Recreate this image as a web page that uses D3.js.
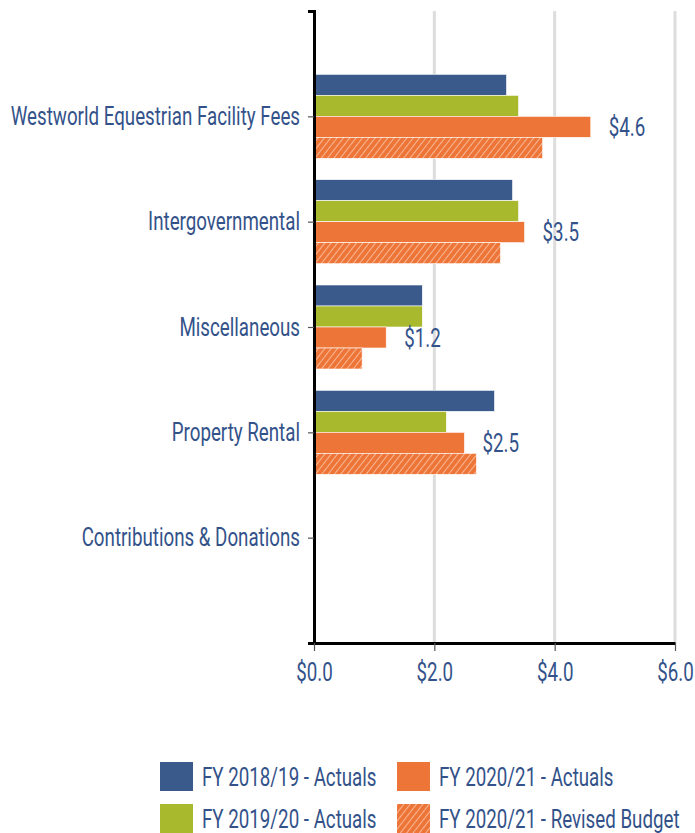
<!DOCTYPE html>
<html>
<head>
<meta charset="utf-8" />
<title>Revenue by source</title>
<style>
  body { margin: 0; background: #fff; }
  svg text { font-family: Roboto, "DejaVu Sans Condensed", sans-serif; fill: #33528a; font-size: 25px; }
</style>
<script src="https://cdn.jsdelivr.net/npm/d3@7"></script>
</head>
<body>
<div id="chart"></div>
<script>
// categories, top to bottom
var categories = ["Westworld Equestrian Facility Fees", "Intergovernmental", "Miscellaneous", "Property Rental", "Contributions & Donations"];

// series values ($ millions), same order as categories
var fy1819Actuals = [3.2, 3.3, 1.8, 3.0, 0];
var fy1920Actuals = [3.4, 3.4, 1.8, 2.2, 0];
var fy2021Actuals = [4.6, 3.5, 1.2, 2.5, 0];
var fy2021Revised = [3.8, 3.1, 0.8, 2.7, 0];

var seriesNames = ["FY 2018/19 - Actuals", "FY 2019/20 - Actuals", "FY 2020/21 - Actuals", "FY 2020/21 - Revised Budget"];
var seriesValues = [fy1819Actuals, fy1920Actuals, fy2021Actuals, fy2021Revised];
var seriesFills = ["#3a5a8c", "#a9b92e", "#ee7538", "url(#hatch)"];

var xTicks = [0, 2, 4, 6];

var width = 695, height = 833;
var plotL = 314, plotR = 675, plotT = 11, plotB = 643;
var squeeze = 0.75; // condensed look

var svg = d3.select("#chart").append("svg").attr("width", width).attr("height", height);

// squeeze text horizontally around its own anchor
function condense(sel) {
  sel.each(function() {
    var t = d3.select(this);
    var tx = +t.attr("x") || 0;
    t.attr("x", 0).attr("transform", "translate(" + tx + ",0) scale(" + squeeze + ",1)");
  });
}

// hatch pattern for revised budget
var pat = svg.append("defs").append("pattern").attr("id", "hatch")
  .attr("patternUnits", "userSpaceOnUse").attr("width", 5).attr("height", 5)
  .attr("patternTransform", "rotate(38)");
pat.append("rect").attr("width", 5).attr("height", 5).attr("fill", "#ee7538");
pat.append("line").attr("x1", 0).attr("y1", 0).attr("x2", 0).attr("y2", 5)
  .attr("stroke", "#fcd5c0").attr("stroke-width", 1.4);

var x = d3.scaleLinear().domain([0, 6]).range([plotL, plotR]);
var y = d3.scalePoint().domain(categories).range([plotT, plotB]).padding(1);
var inner = d3.scaleBand().domain(d3.range(seriesNames.length)).range([-42, 42]);

// grid lines
svg.append("g").selectAll("line").data(xTicks.filter(function(d) { return d > 0; })).enter().append("line")
  .attr("x1", function(d) { return x(d); }).attr("x2", function(d) { return x(d); })
  .attr("y1", plotT).attr("y2", plotB)
  .attr("stroke", "#dddddd").attr("stroke-width", 3);

// bars
var rows = [];
categories.forEach(function(c, i) {
  seriesValues.forEach(function(vals, s) {
    rows.push({ cat: c, s: s, v: vals[i] });
  });
});
svg.append("g").selectAll("rect").data(rows.filter(function(d) { return d.v > 0; })).enter().append("rect")
  .attr("x", x(0))
  .attr("y", function(d) { return y(d.cat) + inner(d.s); })
  .attr("width", function(d) { return x(d.v) - x(0); })
  .attr("height", inner.bandwidth())
  .attr("fill", function(d) { return seriesFills[d.s]; })
  .attr("stroke", "#fff").attr("stroke-width", 0.6);

// value labels for FY 2020/21 actuals
svg.append("g").selectAll("text").data(categories.filter(function(c, i) { return fy2021Actuals[i] > 0; })).enter().append("text")
  .attr("x", function(c) { return x(fy2021Actuals[categories.indexOf(c)]) + 18; })
  .attr("y", function(c) { return y(c) + inner(2) + inner.bandwidth() / 2; })
  .attr("dy", "0.36em")
  .text(function(c) { return "$" + fy2021Actuals[categories.indexOf(c)].toFixed(1); })
  .call(condense);

// y axis
var yAxis = svg.append("g").attr("transform", "translate(" + plotL + ",0)")
  .call(d3.axisLeft(y).tickSize(6).tickSizeOuter(6).tickPadding(8));
yAxis.attr("font-family", null).attr("font-size", null);
yAxis.select(".domain").attr("stroke", "#000").attr("stroke-width", 3);
yAxis.selectAll(".tick line").attr("stroke", "#555").attr("stroke-width", 1.2);
yAxis.selectAll(".tick text").attr("fill", "#33528a").call(condense);

// x axis
var xAxis = svg.append("g").attr("transform", "translate(0," + plotB + ")")
  .call(d3.axisBottom(x).tickValues(xTicks).tickSize(8).tickSizeOuter(0).tickPadding(12)
    .tickFormat(function(d) { return "$" + d.toFixed(1); }));
xAxis.attr("font-family", null).attr("font-size", null);
xAxis.select(".domain").attr("stroke", "#000").attr("stroke-width", 3);
xAxis.selectAll(".tick line").attr("stroke", "#555").attr("stroke-width", 1.2);
xAxis.selectAll(".tick text").attr("fill", "#33528a").call(condense);

// legend
var legendPos = [[160, 762], [160, 804], [397, 762], [397, 804]];
var lg = svg.append("g").selectAll("g").data(seriesNames).enter().append("g")
  .attr("transform", function(d, i) { return "translate(" + legendPos[i][0] + "," + legendPos[i][1] + ")"; });
lg.append("rect").attr("width", 33).attr("height", 29)
  .attr("fill", function(d, i) { return seriesFills[i]; });
lg.append("text").attr("x", 42).attr("y", 15).attr("dy", "0.36em")
  .text(function(d) { return d; })
  .call(condense);
</script>
</body>
</html>
